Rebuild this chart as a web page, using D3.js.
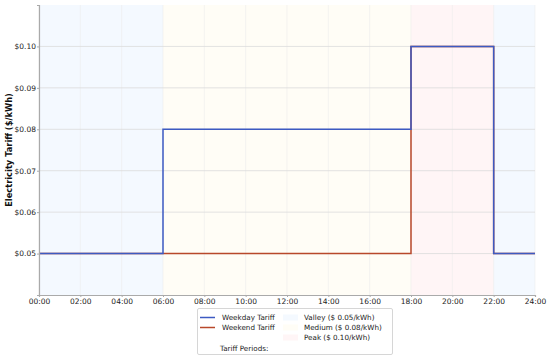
<!DOCTYPE html>
<html><head><meta charset="utf-8">
<script src="https://cdn.jsdelivr.net/npm/d3@7"></script>
<style>body{margin:0;background:#fff;}svg{display:block;font-family:"DejaVu Sans",sans-serif;}</style>
</head><body><svg id="c" width="550" height="359"></svg>
<script>
// Data
const weekdayHours = [0, 6, 18, 22, 24];
const weekdayRates = [0.05, 0.08, 0.10, 0.05, 0.05];
const weekendHours = [0, 6, 18, 22, 24];
const weekendRates = [0.05, 0.05, 0.10, 0.05, 0.05];
const periodStart = [0, 6, 18, 22];
const periodEnd = [6, 18, 22, 24];
const periodType = ["Valley", "Medium", "Peak", "Valley"];
const periodNames = ["Valley ($ 0.05/kWh)", "Medium ($ 0.08/kWh)", "Peak ($ 0.10/kWh)"];
const periodColors = {Valley: "#f4f9ff", Medium: "#fffdf6", Peak: "#fff5f6"};
const xTicks = [0,2,4,6,8,10,12,14,16,18,20,22,24];
const yTicks = [0.05,0.06,0.07,0.08,0.09,0.10];

const svg = d3.select("#c");
const m = {l:39, r:535, t:5, b:295};
const x = d3.scaleLinear().domain([0,24]).range([m.l, m.r]);
const y = d3.scaleLinear().domain([0.04,0.11]).range([m.b, m.t]);

// bands
svg.selectAll("rect.band").data(periodStart).enter().append("rect")
  .attr("x", (d)=>x(d)).attr("width",(d,i)=>x(periodEnd[i])-x(d))
  .attr("y", m.t).attr("height", m.b-m.t)
  .attr("fill",(d,i)=>periodColors[periodType[i]]);

// grid
svg.append("g").selectAll("line").data(xTicks).enter().append("line")
  .attr("x1",d=>x(d)).attr("x2",d=>x(d)).attr("y1",m.t).attr("y2",m.b)
  .attr("stroke","#ececec").attr("stroke-width",0.6);
svg.append("g").selectAll("line").data(yTicks).enter().append("line")
  .attr("x1",m.l).attr("x2",m.r).attr("y1",d=>y(d)).attr("y2",d=>y(d))
  .attr("stroke","#dadada").attr("stroke-width",0.8);

// lines
const line = d3.line().x(d=>x(d[0])).y(d=>y(d[1])).curve(d3.curveStepAfter);
svg.append("path").datum(weekendHours.map((h,i)=>[h,weekendRates[i]]))
  .attr("d",line).attr("fill","none").attr("stroke","#b8482b").attr("stroke-width",1.5);
svg.append("path").datum(weekdayHours.map((h,i)=>[h,weekdayRates[i]]))
  .attr("d",line).attr("fill","none").attr("stroke","#3d5ac2").attr("stroke-width",1.5);

// axes
const xa = svg.append("g").attr("transform",`translate(0,${m.b})`)
  .call(d3.axisBottom(x).tickValues(xTicks).tickFormat(d=>String(d).padStart(2,"0")+":00").tickSize(2).tickPadding(2));
const ya = svg.append("g").attr("transform",`translate(${m.l},0)`)
  .call(d3.axisLeft(y).tickValues(yTicks).tickFormat(d=>"$"+d.toFixed(2)).tickSize(2).tickPadding(1));
[xa,ya].forEach(a=>{
  a.select(".domain").attr("stroke","#aaaaaa").attr("stroke-width",1.2);
  a.selectAll(".tick line").attr("stroke","#aaaaaa");
  a.selectAll("text").attr("fill","#222").style("font-size","7.5px").style("font-family","DejaVu Sans");
});

svg.append("text").attr("transform",`translate(11.5,${(m.t+m.b)/2}) rotate(-90)`)
  .attr("text-anchor","middle").style("font-size","8.3px").style("font-weight","bold").attr("fill","#111")
  .text("Electricity Tariff ($/kWh)");

// legend
const lg = svg.append("g");
lg.append("rect").attr("x",197.5).attr("y",308.5).attr("width",195).attr("height",46)
  .attr("fill","#fff").attr("stroke","#cccccc").attr("stroke-width",0.8).attr("rx",1.5);
const fs = "7.2px";
const rowY = [317.5, 327.5, 337.5, 348];
[["Weekday Tariff","#3d5ac2"],["Weekend Tariff","#b8482b"]].forEach((d,i)=>{
  lg.append("line").attr("x1",200).attr("x2",215).attr("y1",rowY[i]).attr("y2",rowY[i]).attr("stroke",d[1]).attr("stroke-width",1.5);
  lg.append("text").attr("x",222).attr("y",rowY[i]+2.5).style("font-size",fs).attr("fill","#222").text(d[0]);
});
lg.append("text").attr("x",220).attr("y",rowY[3]+2.5).style("font-size",fs).attr("fill","#222").text("Tariff Periods:");
periodNames.forEach((n,i)=>{
  const c = periodColors[["Valley","Medium","Peak"][i]];
  lg.append("rect").attr("x",283).attr("y",rowY[i]-3).attr("width",15).attr("height",6).attr("fill",c);
  lg.append("text").attr("x",304).attr("y",rowY[i]+2.5).style("font-size",fs).attr("fill","#222").text(n);
});
</script></body></html>
